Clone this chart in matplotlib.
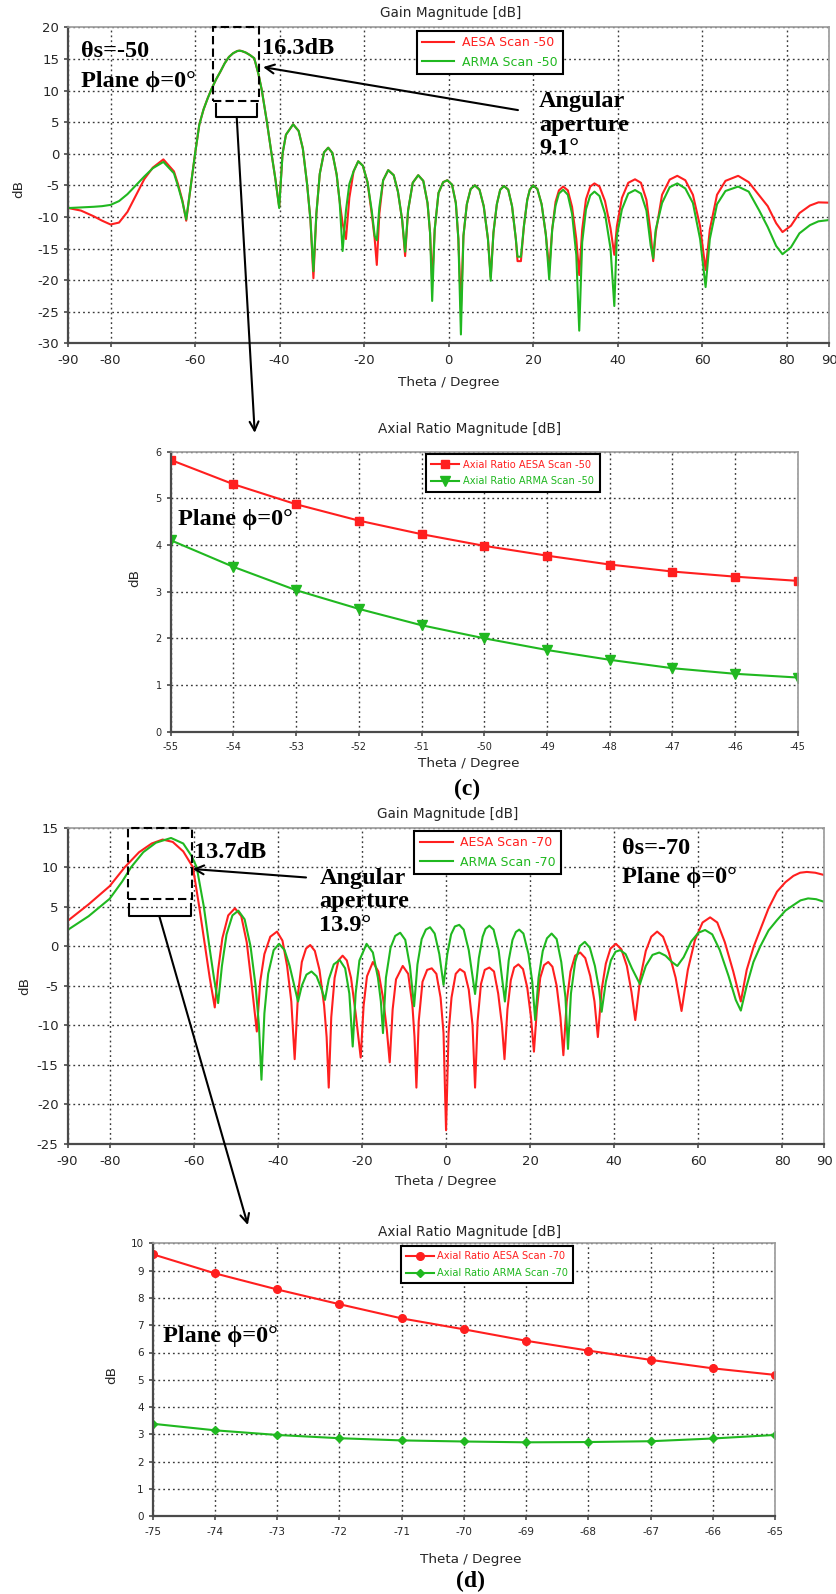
import matplotlib
matplotlib.use("Agg")
import matplotlib.pyplot as plt
from matplotlib.patches import ConnectionPatch, Rectangle
from matplotlib.transforms import offset_copy

plt.rcParams['font.family'] = ['DejaVu Sans']
plt.rcParams['axes.unicode_minus'] = False

W, H, DPI = 837, 1594, 100
RED = '#ff1f1f'
GREEN = '#20b820'
INK = '#262626'
SERIF = ['Liberation Serif', 'DejaVu Serif']

# ---------------- (c) gain pattern, scan -50 ----------------
theta_c = [
    -90, -87, -84, -82, -80, -78, -76, -74, -72, -70, -67.5, -65, -64, -63, -62.1,
    -61.5, -61, -60, -59, -58, -57, -56, -55, -54, -53, -52, -51, -50, -49.5, -49,
    -48, -47, -46, -45, -44.2, -43, -42, -41, -40.1,
    -39.3, -38.5, -36.8, -35.5, -34.5, -33.5, -32.7, -32.0,
    -31.3, -30.5, -29.5, -28.5, -27.5, -26.5, -25.8, -25.1, -24.3, -23.5,
    -22.5, -21.4, -20.3, -19.2, -18.2, -17.5, -17.0, -16.4,
    -15.5, -14.3, -13.0, -12.0, -11.0, -10.3, -9.6,
    -8.5, -7.2, -6.0, -5.0, -4.4, -3.9, -3.3,
    -2.4, -1.3, -0.3, 0.8, 1.7, 2.3, 2.9, 3.5,
    4.3, 5.2, 6.2, 7.3, 8.3, 9.3, 9.95, 10.6,
    11.4, 12.2, 13.1, 14.1, 15.0, 15.9, 16.3, 17.1, 17.8,
    18.6, 19.2, 20.0, 21.0, 22.0, 23.0, 23.8, 24.5,
    25.3, 26.1, 27.1, 28.2, 29.2, 30.2, 30.9, 31.6,
    32.5, 33.5, 34.5, 35.7, 37.0, 38.3, 39.2, 39.8,
    41.0, 42.5, 44.1, 45.5, 46.8, 47.8, 48.4, 49.0,
    50.5, 52.3, 54.1, 56.0, 57.8, 59.5, 60.8, 61.8,
    63.5, 65.5, 68.5, 71.0, 73.5, 75.5, 77.5, 79.0, 81.0, 83.0, 85.5, 87.5, 90]
gain_aesa_c = [
    -8.6, -9.0, -9.9, -10.6, -11.2, -10.9, -9.2, -6.6, -4.0, -2.2, -0.9, -2.8, -4.9, -7.4, -10.6,
    -7.5, -5.0, 0.0, 4.6, 7.0, 8.8, 10.4, 11.8, 13.0, 14.3, 15.3, 15.9, 16.25, 16.3, 16.25,
    16.0, 15.6, 15.1, 12.6, 10.0, 5.0, 0.4, -4.0, -8.4,
    0.0, 3.0, 4.65, 3.6, 0.8, -4.8, -10.5, -19.7,
    -9.5, -3.2, 0.2, 0.95, 0.1, -3.3, -7.5, -11.0, -13.5, -7.0,
    -2.8, -1.2, -1.9, -4.5, -9.5, -13.5, -17.6, -9.5,
    -4.2, -2.6, -3.4, -6.0, -10.5, -16.2, -9.0,
    -4.6, -3.4, -4.3, -7.8, -12.5, -20.3, -12.0,
    -6.2, -4.5, -4.2, -4.9, -7.8, -13.5, -24.5, -13.0,
    -8.0, -5.6, -5.0, -5.7, -8.3, -13.5, -19.5, -12.5,
    -8.0, -5.7, -5.1, -5.7, -8.3, -13.5, -17.0, -17.0, -11.5,
    -7.3, -5.7, -5.0, -5.6, -8.0, -12.8, -18.3, -12.0,
    -7.6, -5.8, -5.2, -5.8, -8.4, -13.5, -19.2, -12.0,
    -7.2, -5.2, -4.7, -5.2, -7.5, -11.8, -16.0, -11.5,
    -7.0, -4.6, -4.05, -4.6, -7.3, -12.5, -17.0, -12.5,
    -6.5, -4.1, -3.5, -4.2, -6.5, -11.5, -18.4, -12.0,
    -6.5, -4.3, -3.5, -4.5, -6.6, -8.3, -11.0, -12.4, -11.4, -9.4, -8.2, -7.7, -7.75]
gain_arma_c = [
    -8.6, -8.5, -8.4, -8.3, -8.1, -7.5, -6.4, -5.0, -3.6, -2.3, -1.3, -3.1, -5.2, -7.6, -10.4,
    -7.5, -5.0, 0.0, 4.6, 7.0, 8.8, 10.4, 11.8, 13.0, 14.3, 15.3, 15.9, 16.25, 16.3, 16.25,
    16.0, 15.6, 15.1, 12.6, 10.0, 5.0, 0.4, -4.0, -8.6,
    0.0, 3.0, 4.65, 3.6, 0.8, -4.8, -10.5, -18.6,
    -9.5, -3.2, 0.2, 0.95, 0.1, -3.3, -7.5, -15.4, -9.0, -4.8,
    -2.8, -1.2, -1.9, -4.5, -9.0, -13.0, -13.7, -8.5,
    -4.2, -2.6, -3.4, -6.0, -10.5, -15.5, -9.0,
    -4.6, -3.4, -4.3, -7.8, -12.5, -23.3, -12.0,
    -6.2, -4.5, -4.2, -4.9, -7.8, -13.5, -28.6, -13.0,
    -8.0, -5.6, -5.0, -5.7, -8.3, -13.5, -20.1, -12.5,
    -8.0, -5.7, -5.1, -5.7, -8.3, -13.5, -16.3, -16.3, -11.5,
    -7.3, -5.7, -5.0, -5.6, -8.0, -12.8, -19.9, -12.0,
    -8.2, -6.3, -5.7, -6.5, -9.5, -16.0, -28.0, -14.0,
    -8.8, -6.6, -6.0, -6.7, -9.5, -15.0, -24.1, -13.0,
    -8.8, -6.3, -5.75, -6.3, -9.0, -14.5, -16.55, -12.0,
    -7.8, -5.3, -4.7, -5.5, -7.8, -13.5, -21.1, -13.5,
    -8.0, -5.9, -5.2, -6.0, -9.0, -11.6, -14.6, -15.9, -14.8, -12.6, -11.3, -10.7, -10.5]

# ---------------- (c) axial ratio ----------------
theta_ar_c = [-55, -54, -53, -52, -51, -50, -49, -48, -47, -46, -45]
ar_aesa_c = [5.82, 5.30, 4.87, 4.52, 4.23, 3.98, 3.77, 3.58, 3.43, 3.32, 3.23]
ar_arma_c = [4.10, 3.53, 3.03, 2.63, 2.28, 2.00, 1.75, 1.54, 1.36, 1.24, 1.16]

# ---------------- (d) gain pattern, scan -70 ----------------
theta_d_aesa = [
    -90, -85, -80, -76.4, -73, -70, -67.4, -65, -62.5, -60.2, -58.7, -57.3, -56.2, -55.0,
    -54.2, -53.2, -51.8, -50.2, -48.7, -47.4, -46.3, -45.0,
    -44.2, -43.2, -41.8, -40.2, -38.9, -37.8, -36.8, -36.0,
    -35.2, -34.3, -33.3, -32.3, -31.2, -30.1, -29.0, -28.4, -27.9,
    -27.3, -26.5, -25.6, -24.6, -23.6, -22.6, -21.5, -20.3,
    -19.6, -18.8, -17.4, -16.1, -15.0, -14.1, -13.4,
    -12.7, -11.9, -10.3, -9.0, -8.0, -7.5, -7.05,
    -6.5, -5.6, -4.5, -3.4, -2.3, -1.3, -0.6, 0.0,
    0.6, 1.3, 2.3, 3.3, 4.4, 5.4, 6.3, 6.9,
    7.5, 8.3, 9.2, 10.3, 11.4, 12.4, 13.3, 13.9,
    14.6, 15.4, 16.2, 17.2, 18.3, 19.3, 20.2, 20.9,
    21.6, 22.4, 23.3, 24.3, 25.3, 26.3, 27.2, 27.9,
    28.7, 29.6, 30.7, 31.9, 33.1, 34.3, 35.3, 36.1,
    37.0, 38.0, 39.1, 40.4, 41.7, 43.0, 44.1, 45.0,
    46.2, 47.5, 48.8, 50.2, 51.6, 53.0, 54.6, 56.0,
    57.5, 59.2, 61.0, 62.8, 64.5, 66.3, 68.3, 70.1,
    71.5, 73.2, 74.7, 76.7, 78.7, 80.7, 82.6, 84.2, 85.8, 87.8, 90]
gain_aesa_d = [
    3.2, 5.3, 7.6, 10.0, 11.9, 13.0, 13.5, 13.2, 12.0, 10.0, 5.0, 0.0, -4.0, -7.75,
    -3.0, 1.0, 3.9, 4.8, 3.8, 0.5, -4.5, -10.8,
    -4.5, -1.0, 1.2, 1.85, 0.7, -2.5, -7.0, -14.3,
    -6.0, -2.0, -0.3, 0.15, -0.6, -3.0, -7.5, -11.5, -17.9,
    -9.0, -4.0, -1.8, -1.2, -1.8, -4.0, -8.5, -14.1,
    -7.5, -3.8, -2.0, -3.2, -6.5, -10.5, -14.7,
    -8.0, -4.2, -2.5, -3.5, -7.5, -11.5, -17.9,
    -9.5, -4.5, -3.0, -2.8, -3.5, -6.5, -11.0, -23.3,
    -11.0, -6.5, -3.5, -2.9, -3.3, -5.5, -10.0, -17.9,
    -9.5, -4.8, -3.0, -2.7, -3.2, -6.0, -10.0, -14.3,
    -8.0, -4.3, -2.7, -2.3, -2.9, -5.2, -9.0, -13.35,
    -8.0, -4.0, -2.4, -2.0, -2.6, -5.0, -9.0, -13.8,
    -7.0, -3.2, -1.2, -0.8, -1.5, -3.8, -7.0, -11.5,
    -5.5, -2.2, -0.3, 0.3, -0.4, -2.5, -5.8, -9.35,
    -4.0, -0.6, 1.2, 1.85, 1.2, -0.8, -4.0, -8.2,
    -3.0, 0.8, 3.0, 3.65, 3.0, 0.5, -3.2, -7.0,
    -3.0, 0.0, 2.05, 4.8, 6.9, 8.1, 8.9, 9.3, 9.4, 9.3, 9.0]
theta_d_arma = [
    -90, -85, -80, -77, -74.9, -72, -69, -65.4, -62.5, -60.5, -59.3, -57.6, -56.3, -55.2, -54.2,
    -53.3, -52.2, -50.8, -49.4, -47.9, -46.5, -45.3, -44.5, -43.9,
    -43.2, -42.3, -41.0, -39.7, -38.4, -37.2, -36.1, -35.2,
    -34.3, -33.2, -32.0, -30.8, -29.7, -28.8,
    -27.9, -26.7, -25.3, -24.0, -23.0, -22.2,
    -21.5, -20.6, -18.9, -17.4, -16.2, -15.5, -15.0,
    -14.3, -13.2, -12.1, -10.9, -9.7, -8.6, -7.6,
    -6.8, -5.8, -4.8, -3.8, -2.7, -1.6, -0.6,
    0.3, 1.2, 2.1, 3.15, 4.2, 5.4, 6.9,
    7.8, 8.7, 9.4, 10.3, 11.3, 12.5, 14.0,
    14.9, 15.8, 16.6, 17.4, 18.4, 19.6, 20.5, 21.2,
    22.0, 23.0, 24.0, 25.1, 26.3, 27.4, 28.4, 29.0,
    29.7, 30.7, 31.8, 33.0, 34.2, 35.4, 36.4, 37.0,
    38.0, 39.2, 40.3, 41.4, 42.7, 44.2, 46.1,
    47.5, 49.1, 50.7, 52.2, 53.7, 55.0,
    56.5, 58.3, 60.0, 61.6, 63.3, 65.1, 67.2, 68.9, 70.1,
    71.5, 73.1, 74.7, 76.7, 78.7, 80.7, 82.6, 84.3, 86.1, 88.0, 90]
gain_arma_d = [
    2.05, 3.8, 6.0, 8.2, 10.0, 11.9, 13.1, 13.7, 13.0, 11.4, 10.0, 5.0, 0.0, -4.0, -7.2,
    -2.5, 1.5, 3.9, 4.5, 3.4, 0.0, -5.0, -10.0, -16.9,
    -8.5, -3.5, -0.5, 0.3, -0.5, -2.5, -5.0, -7.0,
    -5.0, -3.6, -3.2, -3.8, -5.3, -6.8,
    -4.2, -2.3, -1.75, -2.8, -6.0, -12.7,
    -6.0, -1.8, 0.3, -0.8, -4.0, -7.0, -11.0,
    -4.0, -0.2, 1.3, 1.7, 0.8, -2.5, -7.6,
    -2.3, 0.9, 2.1, 2.4, 1.6, -1.0, -4.9,
    -1.0, 1.5, 2.5, 2.7, 2.1, -0.5, -6.05,
    -1.5, 1.2, 2.2, 2.6, 2.1, -0.5, -7.0,
    -1.8, 0.8, 1.8, 2.1, 1.6, -1.0, -4.5, -9.35,
    -4.0, -0.6, 1.0, 1.6, 0.9, -2.0, -6.5, -13.0,
    -6.0, -2.0, 0.0, 0.55, -0.2, -2.5, -5.5, -8.3,
    -4.5, -1.8, -0.7, -0.5, -1.0, -2.8, -4.8,
    -2.5, -1.1, -0.8, -1.2, -2.0, -2.5,
    -1.4, 0.6, 1.7, 2.05, 1.5, -0.5, -3.8, -6.8, -8.15,
    -5.0, -2.0, -0.05, 2.0, 3.3, 4.5, 5.2, 5.8, 6.05, 5.95, 5.6]

# ---------------- (d) axial ratio ----------------
theta_ar_d = [-75, -74, -73, -72, -71, -70, -69, -68, -67, -66, -65]
ar_aesa_d = [9.60, 8.90, 8.31, 7.77, 7.25, 6.85, 6.43, 6.07, 5.73, 5.42, 5.18]
ar_arma_d = [3.39, 3.15, 2.98, 2.86, 2.78, 2.74, 2.71, 2.72, 2.75, 2.85, 2.98]

gain_xticks = [-90, -80, -60, -40, -20, 0, 20, 40, 60, 80, 90]

fig = plt.figure(figsize=(W / DPI, H / DPI), dpi=DPI)


def add_axes_px(left, top, right, bottom):
    return fig.add_axes([left / W, 1 - bottom / H, (right - left) / W, (bottom - top) / H])


def style(ax, tick_fs, xpad, ypad):
    ax.grid(True, color='#3a3a3a', linestyle=(0, (1.3, 2.2)), linewidth=1.0)
    ax.set_axisbelow(True)
    for s in ('left', 'bottom'):
        ax.spines[s].set_color('#4a4a4a')
        ax.spines[s].set_linewidth(1.6)
    for s in ('top', 'right'):
        ax.spines[s].set_color('#9a9a9a')
        ax.spines[s].set_linewidth(1.2)
    ax.tick_params(direction='out', length=3, width=1.2, color='#4a4a4a',
                   labelsize=tick_fs, labelcolor=INK)
    ax.tick_params(axis='x', pad=xpad)
    ax.tick_params(axis='y', pad=ypad)


def label(ax, text, fx, fy, dx, dy, size, rot=0, **kw):
    tr = offset_copy(ax.transAxes, fig=fig, x=dx, y=dy, units='dots')
    ax.text(fx, fy, text, transform=tr, ha='center', va='center',
            fontsize=size, color=INK, rotation=rot, **kw)


def bold_note(ax, x, y, text, size=17.5, ls=1.15):
    ax.text(x, y, text, ha='left', va='center', fontsize=size, fontweight='bold',
            family=SERIF, color='black', linespacing=ls)


def legend(ax, x0, y0, fs, hl, tp, lsp, bp):
    leg = ax.legend(loc='upper left', bbox_to_anchor=(x0, y0), fontsize=fs,
                    frameon=True, fancybox=False, edgecolor='black', framealpha=1,
                    borderaxespad=0, handlelength=hl, handletextpad=tp,
                    labelspacing=lsp, borderpad=bp, labelcolor='linecolor')
    leg.get_frame().set_linewidth(1.5)
    return leg


# ===== panel 1: gain (c) =====
ax1 = add_axes_px(68.3, 27.3, 829, 343.3)
ax1.plot(theta_c, gain_aesa_c, color=RED, lw=1.5, label='AESA Scan -50')
ax1.plot(theta_c, gain_arma_c, color=GREEN, lw=1.5, label='ARMA Scan -50')
ax1.set_xlim(-90, 90)
ax1.set_ylim(-30, 20)
ax1.set_xticks(gain_xticks)
ax1.set_yticks(range(-30, 21, 5))
style(ax1, 9.5, 5, 3.5)
label(ax1, 'Gain Magnitude [dB]', 0.5, 1, 2, 14, 9.8)
label(ax1, 'Theta / Degree', 0.5, 0, 0, -39, 9.7)
label(ax1, 'dB', 0, 0.5, -50, -4, 9.7, rot=90)
legend(ax1, 0.458, 0.988, 9, 2.56, 0.64, 0.52, 0.42)

bold_note(ax1, -87.0, 16.1, 'θs=-50')
bold_note(ax1, -87.0, 11.5, 'Plane ϕ=0°')
bold_note(ax1, -44.2, 16.6, '16.3dB')
bold_note(ax1, 21.4, 4.5, 'Angular\naperture\n9.1°')
ax1.annotate('', xy=(-43.9, 13.7), xytext=(16.4, 6.9),
             arrowprops=dict(arrowstyle='->', lw=1.5, color='black',
                             shrinkA=0, shrinkB=0, mutation_scale=16))
ax1.add_patch(Rectangle((-55.8, 8.4), 10.9, 11.6, fill=False, ls=(0, (4, 2)),
                        lw=1.5, ec='black', clip_on=False, zorder=5))
ax1.plot([-55.05, -55.05, -45.35, -45.35], [7.86, 5.8, 5.8, 7.86],
         color='black', lw=1.5, zorder=5)

# ===== panel 2: axial ratio (c) =====
ax2 = add_axes_px(170.7, 451.5, 797.7, 731.7)
ax2.plot(theta_ar_c, ar_aesa_c, color=RED, lw=1.5, marker='s', ms=6,
         label='Axial Ratio AESA Scan -50')
ax2.plot(theta_ar_c, ar_arma_c, color=GREEN, lw=1.5, marker='v', ms=6.5,
         label='Axial Ratio ARMA Scan -50')
ax2.set_xlim(-55, -45)
ax2.set_ylim(0, 6)
ax2.set_xticks(theta_ar_c)
ax2.set_yticks(range(0, 7))
style(ax2, 7, 4.7, 3.5)
label(ax2, 'Axial Ratio Magnitude [dB]', 0.5, 1, -15, 22.5, 9.8)
label(ax2, 'Theta / Degree', 0.5, 0, -15, -31.3, 9.7)
label(ax2, 'dB', 0, 0.5, -35.7, 13.6, 9.7, rot=90)
legend(ax2, 0.4065, 0.991, 7.1, 2.85, 0.35, 0.66, 0.58)
bold_note(ax2, -54.89, 4.55, 'Plane ϕ=0°')

fig.add_artist(ConnectionPatch(xyA=(-50.15, 5.8), coordsA=ax1.transData,
                               xyB=(-53.66, 6.40), coordsB=ax2.transData,
                               arrowstyle='->', lw=1.5, color='black',
                               shrinkA=0, shrinkB=0, mutation_scale=16))
fig.text(467 / W, 1 - 789 / H, '(c)', ha='center', va='center', fontsize=17,
         fontweight='bold', family=SERIF)

# ===== panel 3: gain (d) =====
ax3 = add_axes_px(67.6, 827.7, 824.5, 1143.7)
ax3.plot(theta_d_aesa, gain_aesa_d, color=RED, lw=1.5, label='AESA Scan -70')
ax3.plot(theta_d_arma, gain_arma_d, color=GREEN, lw=1.5, label='ARMA Scan -70')
ax3.set_xlim(-90, 90)
ax3.set_ylim(-25, 15)
ax3.set_xticks(gain_xticks)
ax3.set_yticks(range(-25, 16, 5))
style(ax3, 9.5, 5, 3.5)
label(ax3, 'Gain Magnitude [dB]', 0.5, 1, 2, 13.7, 9.8)
label(ax3, 'Theta / Degree', 0.5, 0, 0, -38, 9.7)
label(ax3, 'dB', 0, 0.5, -42.6, 0, 9.7, rot=90)
legend(ax3, 0.458, 0.9896, 9, 2.66, 0.6, 0.52, 0.42)

bold_note(ax3, -59.9, 11.9, '13.7dB')
bold_note(ax3, -30.1, 5.6, 'Angular\naperture\n13.9°')
bold_note(ax3, 41.8, 12.4, 'θs=-70')
bold_note(ax3, 41.8, 8.7, 'Plane ϕ=0°')
ax3.annotate('', xy=(-60.25, 9.77), xytext=(-33.3, 8.7),
             arrowprops=dict(arrowstyle='->', lw=1.5, color='black',
                             shrinkA=0, shrinkB=0, mutation_scale=16))
ax3.add_patch(Rectangle((-75.7, 6.0), 15.2, 9.0, fill=False, ls=(0, (4, 2)),
                        lw=1.5, ec='black', clip_on=False, zorder=5))
ax3.plot([-75.4, -75.4, -60.65, -60.65], [5.34, 3.82, 3.82, 5.34],
         color='black', lw=1.5, zorder=5)

# ===== panel 4: axial ratio (d) =====
ax4 = add_axes_px(152.6, 1243.3, 775.0, 1516.3)
ax4.plot(theta_ar_d, ar_aesa_d, color=RED, lw=1.5, marker='o', ms=5.5,
         label='Axial Ratio AESA Scan -70')
ax4.plot(theta_ar_d, ar_arma_d, color=GREEN, lw=1.5, marker='D', ms=4.5,
         label='Axial Ratio ARMA Scan -70')
ax4.set_xlim(-75, -65)
ax4.set_ylim(0, 10)
ax4.set_xticks(theta_ar_d)
ax4.set_yticks(range(0, 11))
style(ax4, 7.5, 4.7, 3.5)
label(ax4, 'Axial Ratio Magnitude [dB]', 0.5, 1, 6, 11.6, 9.8)
label(ax4, 'Theta / Degree', 0.5, 0, 7, -42.7, 9.7)
label(ax4, 'dB', 0, 0.5, -41, 4.8, 9.7, rot=90)
legend(ax4, 0.3988, 0.990, 7.1, 2.85, 0.35, 0.72, 0.5)
bold_note(ax4, -74.83, 6.58, 'Plane ϕ=0°')

fig.add_artist(ConnectionPatch(xyA=(-68.2, 3.82), coordsA=ax3.transData,
                               xyB=(-73.47, 10.67), coordsB=ax4.transData,
                               arrowstyle='->', lw=1.5, color='black',
                               shrinkA=0, shrinkB=0, mutation_scale=16))
fig.text(471 / W, 1 - 1581.7 / H, '(d)', ha='center', va='center', fontsize=17,
         fontweight='bold', family=SERIF)

fig.savefig('out.png', dpi=DPI)
